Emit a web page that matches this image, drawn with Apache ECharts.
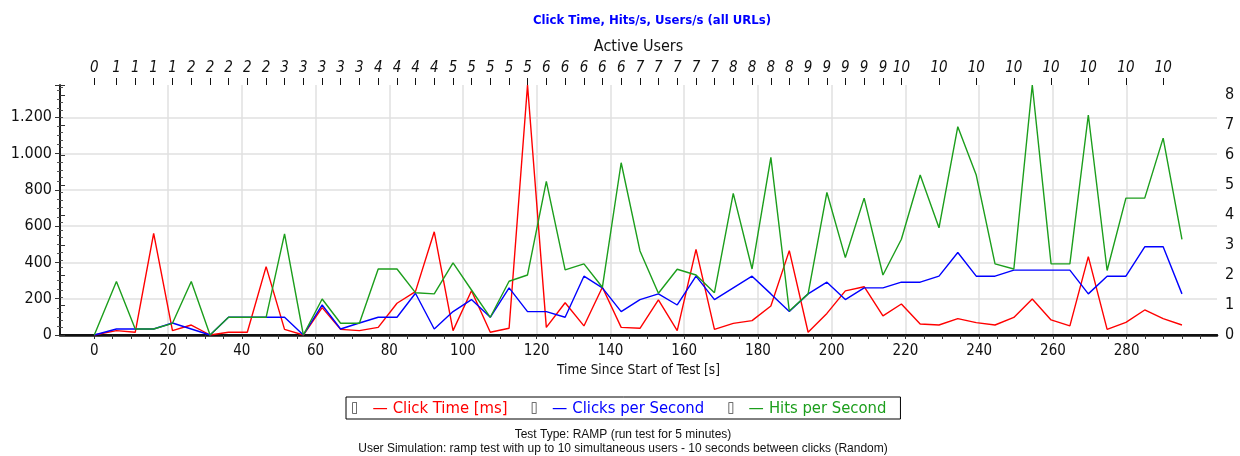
<!DOCTYPE html>
<html>
<head>
<meta charset="utf-8">
<title>Click Time, Hits/s, Users/s (all URLs)</title>
<script src="https://cdn.jsdelivr.net/npm/echarts@6/dist/echarts.min.js"></script>
<style>
    html, body { margin: 0; padding: 0; background: #fff; }
    #chart { width: 1240px; height: 456px; }
</style>
</head>
<body>
<div id="chart"></div>
<script>
// sample times in seconds since start of test
var sampleTimes = [0, 6.0, 11.1, 16.1, 21.2, 26.3, 31.4, 36.4, 41.5, 46.6,
    51.6, 56.7, 61.8, 66.8, 71.9, 77.0, 82.1, 87.1, 92.2, 97.3,
    102.3, 107.4, 112.5, 117.5, 122.6, 127.7, 132.8, 137.8, 142.9, 148.0,
    153.0, 158.1, 163.2, 168.2, 173.3, 178.4, 183.5, 188.5, 193.6, 198.7,
    203.7, 208.8, 213.9, 218.9, 224.0, 229.1, 234.2, 239.2, 244.3, 249.4,
    254.4, 259.5, 264.6, 269.6, 274.7, 279.8, 284.9, 289.9, 295.0];
var activeUsers = [0, 1, 1, 1, 1, 2, 2, 2, 2, 2, 3, 3, 3, 3, 3, 4, 4, 4, 4,
    5, 5, 5, 5, 5, 6, 6, 6, 6, 6, 7, 7, 7, 7, 7, 8, 8, 8, 8, 9, 9, 9, 9, 9,
    10, 10, 10, 10, 10, 10, 10, 10, 10, 10, 10, 10, 10, 10, 10, 10];
var clickTimeMs = [0, 24, 15, 560, 24, 55, 0, 15, 15, 377,
    31, 0, 151, 31, 24, 42, 175, 239, 569, 24,
    244, 15, 37, 1378, 42, 178, 50, 263, 42, 37,
    193, 24, 472, 31, 64, 79, 160, 465, 15, 119,
    243, 266, 105, 171, 61, 55, 90, 68, 55, 97,
    198, 83, 50, 432, 31, 70, 138, 90, 55];
var clicksPerSec = [0, 0.2, 0.2, 0.2, 0.4, 0.2, 0, 0.59, 0.59, 0.59,
    0.59, 0, 1.0, 0.2, 0.4, 0.59, 0.59, 1.39, 0.2, 0.78,
    1.18, 0.59, 1.57, 0.78, 0.78, 0.59, 1.96, 1.57, 0.78, 1.18,
    1.37, 1.0, 1.96, 1.18, 1.57, 1.96, 1.37, 0.78, 1.37, 1.76,
    1.18, 1.57, 1.57, 1.76, 1.76, 1.96, 2.75, 1.96, 1.96, 2.16,
    2.16, 2.16, 2.16, 1.37, 1.96, 1.96, 2.94, 2.94, 1.37];
var hitsPerSec = [0, 1.78, 0.2, 0.2, 0.39, 1.78, 0, 0.59, 0.59, 0.59,
    3.37, 0, 1.2, 0.39, 0.39, 2.2, 2.2, 1.41, 1.37, 2.4,
    1.5, 0.59, 1.79, 2.0, 5.12, 2.17, 2.37, 1.59, 5.74, 2.8,
    1.39, 2.19, 2.0, 1.41, 4.72, 2.2, 5.92, 0.8, 1.37, 4.75,
    2.58, 4.56, 2.0, 3.19, 5.33, 3.57, 6.94, 5.33, 2.37, 2.2,
    8.33, 2.37, 2.37, 7.33, 2.15, 4.56, 4.56, 6.56, 3.19];

var FONT = '"DejaVu Sans Condensed", "DejaVu Sans", sans-serif';
var RED = '#ff0000', BLUE = '#0000ff', GREEN = '#1c9e1c';
var NO_LINE = 'rgba(0,0,0,0)';

initchart();

function pairs(values) {
    return sampleTimes.map(function (t, i) { return [t, values[i]]; });
}
function usersAt(v) {
    var best = 0;
    for (var i = 1; i < sampleTimes.length; i++) {
        if (Math.abs(sampleTimes[i] - v) < Math.abs(sampleTimes[best] - v)) best = i;
    }
    return String(activeUsers[best]);
}
function dotThousands(v) {
    return String(v).replace(/\B(?=(\d{3})+(?!\d))/g, '.');
}

function initchart() {
    var myChart = echarts.init(document.getElementById('chart'), null, {renderer: 'canvas'});
    var leftMax = Math.max.apply(null, clickTimeMs);
    var rightMax = Math.max.apply(null, hitsPerSec);
    // from sample 43 on only every other user label is drawn
    var labelTimes = sampleTimes.filter(function (t, i) { return i < 43 || (i - 43) % 2 === 0; });

    var option = {
        animation: false,
        backgroundColor: '#fff',
        title: [{
            text: 'Click Time, Hits/s, Users/s (all URLs)',
            left: 647,
            top: 9,
            textAlign: 'center',
            textStyle: {color: '#0000ff', fontSize: 13, fontWeight: 'bold', fontFamily: FONT}
        }, {
            text: 'Test Type: RAMP (run test for 5 minutes)\nUser Simulation: ramp test with up to 10 simultaneous users - 10 seconds between clicks (Random)',
            left: 618,
            top: 423,
            textAlign: 'center',
            textStyle: {color: '#111', fontSize: 12, fontWeight: 'normal', lineHeight: 14, fontFamily: '"Liberation Sans", Arial, sans-serif'}
        }],
        legend: {
            left: 346,
            top: 397,
            icon: 'rect',
            itemWidth: 0,
            itemHeight: 0,
            itemGap: 18,
            selectedMode: false,
            borderColor: '#000',
            borderWidth: 1,
            borderRadius: 0,
            padding: [3, 14, 2, 0],
            data: [
                {name: 'Click Time [ms]', textStyle: {color: RED}},
                {name: 'Clicks per Second', textStyle: {color: BLUE}},
                {name: 'Hits per Second', textStyle: {color: GREEN}}
            ],
            formatter: function (name) {
                return '{box|\u25AF}{ln|\u2014}' + name;
            },
            textStyle: {
                fontFamily: FONT,
                fontSize: 16.5,
                rich: {
                    box: {color: '#444', fontSize: 15, fontFamily: FONT, padding: [0, 14, 0, 0]},
                    ln: {fontSize: 17, fontFamily: FONT, padding: [0, 5, 0, 0]}
                }
            }
        },
        grid: [
            {left: 60, right: 23, top: 85, bottom: 121, outerBoundsMode: 'none'},
            {left: 94.3, width: 1106.1, top: 85, bottom: 121, outerBoundsMode: 'none'}
        ],
        xAxis: [{
            // frame bottom + axis title
            gridIndex: 0, type: 'value', position: 'bottom', min: 0, max: 1,
            name: 'Time Since Start of Test [s]', nameLocation: 'middle', nameGap: 28,
            nameTextStyle: {color: '#111', fontSize: 13.5, fontFamily: FONT},
            axisLine: {show: true, lineStyle: {color: '#111', width: 2.5}},
            axisTick: {show: false}, axisLabel: {show: false}, splitLine: {show: false}
        }, {
            gridIndex: 1, type: 'value', position: 'bottom', min: 0, max: 300, interval: 20,
            axisLine: {show: true, onZero: false, lineStyle: {color: NO_LINE}},
            axisTick: {show: true, length: 4, lineStyle: {color: '#333', width: 1}},
            minorTick: {show: true, splitNumber: 4, length: 4, lineStyle: {color: '#333', width: 1}},
            axisLabel: {color: '#111', fontSize: 15, fontFamily: FONT, margin: 9, showMaxLabel: false},
            splitLine: {show: true, showMinLine: false, showMaxLine: false, lineStyle: {color: '#e0e0e0', width: 1.5}}
        }, {
            // frame top + axis title
            gridIndex: 0, type: 'value', position: 'top', min: 0, max: 1,
            name: 'Active Users', nameLocation: 'middle', nameGap: 30,
            nameTextStyle: {color: '#111', fontSize: 16, fontFamily: FONT},
            axisLine: {show: true, lineStyle: {color: '#111', width: 2}},
            axisTick: {show: false}, axisLabel: {show: false}, splitLine: {show: false}
        }, {
            gridIndex: 1, type: 'value', position: 'top', min: 0, max: 300,
            axisLine: {show: true, onZero: false, lineStyle: {color: NO_LINE}},
            axisTick: {show: true, inside: false, length: 7, customValues: labelTimes, lineStyle: {color: '#111', width: 1}},
            axisLabel: {
                customValues: labelTimes,
                color: '#111', fontSize: 15, fontStyle: 'italic', fontFamily: FONT, margin: 9,
                formatter: usersAt
            },
            splitLine: {show: false}
        }],
        yAxis: [{
            gridIndex: 0, type: 'value', position: 'left', min: 0, max: leftMax, interval: 200,
            axisLine: {show: true, lineStyle: {color: '#111', width: 1.5}},
            axisTick: {show: true, length: 5, lineStyle: {color: '#333'}},
            minorTick: {show: true, splitNumber: 4, length: 3, lineStyle: {color: '#555'}},
            axisLabel: {color: '#111', fontSize: 16, fontFamily: FONT, margin: 8, showMaxLabel: false, formatter: dotThousands},
            splitLine: {show: true, showMinLine: false, showMaxLine: false, lineStyle: {color: '#e0e0e0', width: 1.5}}
        }, {
            gridIndex: 0, type: 'value', position: 'right', min: 0, max: rightMax, interval: 1,
            axisLine: {show: true, lineStyle: {color: '#111', width: 1.5}},
            axisTick: {show: true, length: 5, lineStyle: {color: '#333'}},
            minorTick: {show: true, splitNumber: 4, length: 3, lineStyle: {color: '#555'}},
            axisLabel: {color: '#111', fontSize: 16, fontFamily: FONT, margin: 8, showMaxLabel: false},
            splitLine: {show: false}
        }, {
            gridIndex: 1, type: 'value', show: false, min: 0, max: leftMax
        }, {
            gridIndex: 1, type: 'value', show: false, min: 0, max: rightMax
        }],
        series: [{
            name: 'Click Time [ms]', type: 'line', xAxisIndex: 1, yAxisIndex: 2,
            data: pairs(clickTimeMs), symbol: 'none',
            lineStyle: {color: RED, width: 1.4}, itemStyle: {color: RED}
        }, {
            name: 'Clicks per Second', type: 'line', xAxisIndex: 1, yAxisIndex: 3,
            data: pairs(clicksPerSec), symbol: 'none',
            lineStyle: {color: BLUE, width: 1.4}, itemStyle: {color: BLUE}
        }, {
            name: 'Hits per Second', type: 'line', xAxisIndex: 1, yAxisIndex: 3,
            data: pairs(hitsPerSec), symbol: 'none',
            lineStyle: {color: GREEN, width: 1.4}, itemStyle: {color: GREEN}
        }]
    };
    myChart.setOption(option);
}
</script>
</body>
</html>
